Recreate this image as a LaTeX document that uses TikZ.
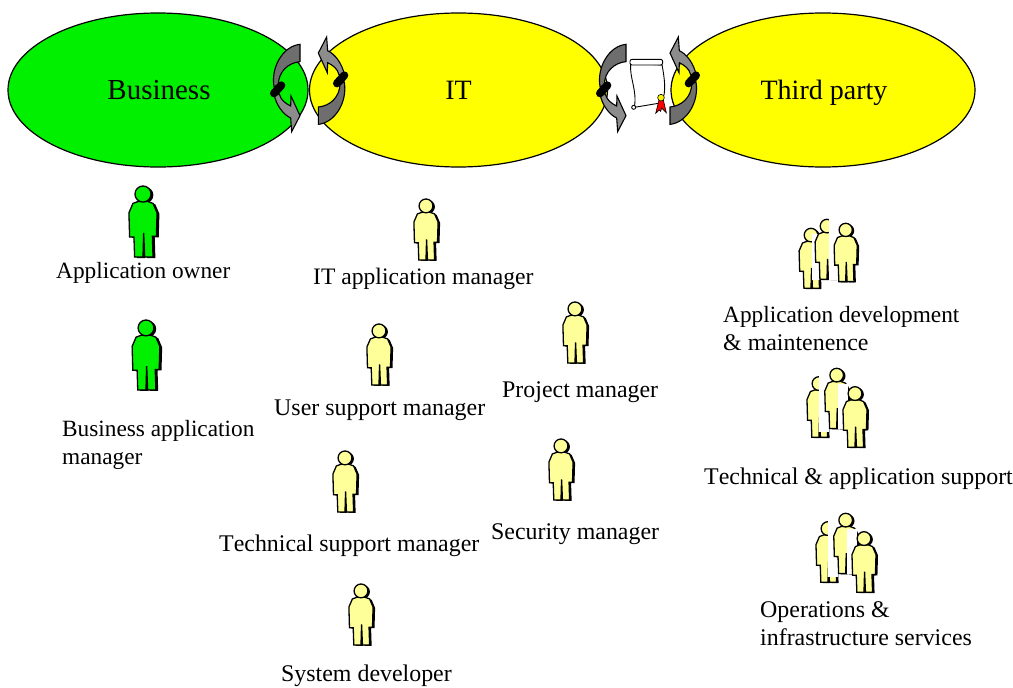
\documentclass[tikz,border=0pt]{standalone}
\usepackage{fontspec}
\setmainfont[Kerning=Off]{Liberation Serif}
\definecolor{gbiz}{HTML}{00F000}
\definecolor{yit}{HTML}{FFFF00}
\definecolor{ppl}{HTML}{FFFF99}
\definecolor{darkarrow}{HTML}{6E6E6E}
\definecolor{midarrow}{HTML}{8C8C8C}
\newcommand{\narrowsz}{\fontsize{23.3}{28}\selectfont}
\newcommand{\widesz}{\fontsize{23.9}{28}\selectfont}
\tikzset{
  realm/.style={draw=black,line width=1.2pt},
  lbl/.style={inner sep=0pt,anchor=west,align=left,font=\widesz},
  biglbl/.style={inner sep=0pt,anchor=base,font=\fontsize{28}{32}\selectfont},
  scrollline/.style={draw=black,line width=.9pt},
  arrowpart/.style={draw=black,line width=1.1pt,line join=miter},
  swaphalf/.pic={
    \path[arrowpart,fill=darkarrow] (150,73) -- (150,125) .. controls (115,128) and (85,155) .. (85,195) -- (72,200) .. controls (62,140) and (100,78) .. (150,73) -- cycle;
    \path[arrowpart,fill=midarrow] (72,222) .. controls (78,255) and (100,284) .. (122,294) -- (125,335) -- (150,287) -- (123,228) -- (122,258) .. controls (106,250) and (92,240) .. (88,222) -- cycle;
    \draw[line width=8pt,line cap=round,black] (72,220) -- (94,196);
  }
}
\newcommand{\personpath}{(-14,46) -- (-30,52) -- (-42,80) -- (-40,152) -- (-27,152) -- (-25,212) -- (0,212) -- (2,140) -- (5,212) -- (30,212) -- (28,150) -- (40,150) -- (42,80) -- (30,52) -- (14,46) -- cycle}
\newcommand{\person}[4]{% x, top y, scale, colour
  \begin{scope}[shift={(#1,#2)},scale=#3]
    \fill[black,shift={(7,3)}] (0,24) circle (24);
    \fill[black,shift={(7,3)}] \personpath;
    \path[draw=black,line width=1.3pt,fill=#4] \personpath;
    \path[draw=black,line width=1.3pt,fill=#4] (0,24) circle (24);
  \end{scope}
}
\newcommand{\crowd}[2]{%
  \begin{scope}[shift={(#1,#2)}]
    \person{24}{16.7}{.286}{ppl}
    \fill[white] (24.3,16) rectangle (33.5,72);
    \person{41.7}{8.3}{.284}{ppl}
    \fill[white] (42.5,24) rectangle (53,69);
    \person{60}{26.7}{.286}{ppl}
  \end{scope}
}
\begin{document}
\begin{tikzpicture}[x=1pt,y=-1pt]
\useasboundingbox (0,0) rectangle (1013,688);
% realms
\path[realm,fill=gbiz] (158,90) ellipse [x radius=150,y radius=77];
\path[realm,fill=yit] (458.5,90) ellipse [x radius=149,y radius=77];
\path[realm,fill=yit] (823,90) ellipse [x radius=152,y radius=77];
\node[biglbl,font=\fontsize{29}{32}\selectfont] (biz) at (159,99) {Business};
\node[biglbl] (it) at (458.5,99) {IT};
\node[biglbl] (tp) at (824,99) {Third party};
% swap arrows
\pic[scale=1/3] at (250,20) {swaphalf};
\pic[scale=-1/3] at (368.3,148.7) {swaphalf};
\pic[scale=1/3] at (576,20) {swaphalf};
\pic[scale=-1/3] at (720,148.7) {swaphalf};
% contract scroll
\begin{scope}[shift={(590,20)},scale=1/3]
  \path[scrollline,fill=white] (122,130) .. controls (118,175) and (142,210) .. (133,262) -- (205,250) .. controls (232,240) and (225,180) .. (216,135) -- cycle;
  \path[scrollline,fill=white,rounded corners=2pt] (120,118) rectangle (218,135);
  \path[scrollline,fill=white] (131,262) circle (6);
  \path[draw=black,line width=.6pt,fill=red] (207,240) -- (197,280) -- (208,270) -- (212,274) -- (215,264) -- (229,278) -- (220,240) -- cycle;
  \path[draw=black,line width=.6pt,fill=yellow] (213,233) circle (10);
\end{scope}
% people
\person{143}{186}{.335}{gbiz}
\person{146}{320}{.33}{gbiz}
\person{426}{199}{.288}{ppl}
\person{379}{324}{.288}{ppl}
\person{345}{451}{.288}{ppl}
\person{361}{584}{.288}{ppl}
\person{575}{302}{.288}{ppl}
\person{561}{439}{.288}{ppl}
\begin{scope}[shift={(785,210)}]
  \person{26}{18.3}{.283}{ppl}
  \fill[white] (26.5,24) rectangle (36,70);
  \person{42}{9.3}{.283}{ppl}
  \fill[white] (43.5,9) rectangle (53,70);
  \person{60.7}{13.3}{.275}{ppl}
\end{scope}
\crowd{795}{360}
\crowd{804}{505}
% labels
\node[lbl,font=\narrowsz] (l1) at (56,273) {Application owner};
\node[lbl,font=\narrowsz] (l2) at (62,445) {Business application\\manager};
\node[lbl,font=\fontsize{23.6}{28}\selectfont] (l3) at (313,279) {IT application manager};
\node[lbl] (l4) at (274,410) {User support manager};
\node[lbl] (l5) at (502,392) {Project manager};
\node[lbl] (l6) at (219,546) {Technical support manager};
\node[lbl] (l7) at (491,534) {Security manager};
\node[lbl] (l8) at (281,676) {System developer};
\node[lbl,font=\narrowsz] (l9) at (723,329) {Application development\\{\widesz\& maintenence}};
\node[lbl] (l10) at (704,479) {Technical \& application support};
\node[lbl] (l11) at (760,624) {Operations \&\\infrastructure services};
\end{tikzpicture}
\end{document}
